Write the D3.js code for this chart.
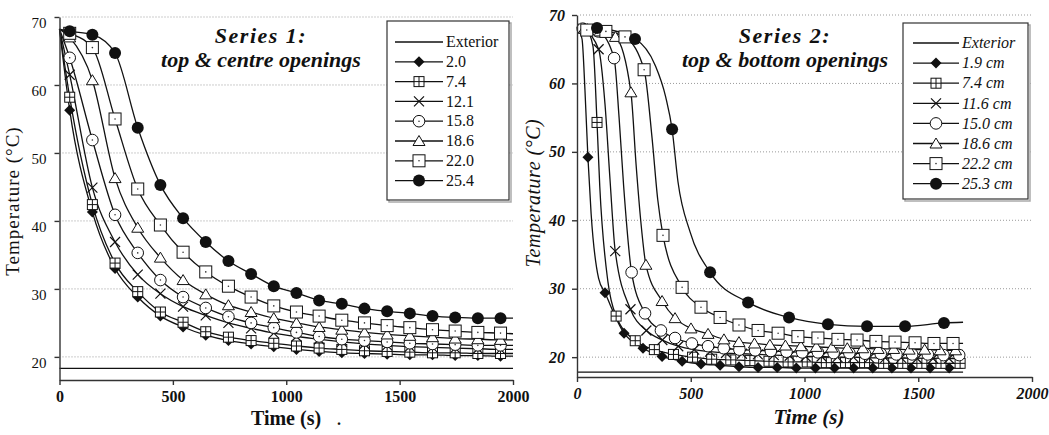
<!DOCTYPE html>
<html lang="en">
<head>
<meta charset="utf-8">
<title>Series 1 / Series 2 - temperature decay</title>
<script src="https://cdn.jsdelivr.net/npm/d3@7"></script>
<style>
body { margin: 0; background: #fff; }
svg text { fill: #111; }
.grid line { stroke: #9a9a9a; stroke-width: 1; stroke-dasharray: 1,2; }
.axis path, .axis line { stroke: #333; stroke-width: 1.4; }
.series { fill: none; stroke: #111; stroke-width: 1.3; }
.legend-box { fill: #fff; stroke: #333; stroke-width: 1.2; }
.legend-shadow { fill: none; stroke: #aaa; stroke-width: 1.5; }
</style>
</head>
<body>
<svg id="chart" width="1049" height="435"></svg>
<script>

// ---- data ----
var xTicks = [0, 500, 1000, 1500, 2000];
var yTicks = [20, 30, 40, 50, 60, 70];

// series 1 : top & centre openings (heights in cm)
var s1Labels = ["Exterior", "2.0", "7.4", "12.1", "15.8", "18.6", "22.0", "25.4"];
var s1Time = [45, 145, 245, 345, 445, 545, 645, 745, 845, 945, 1045, 1145, 1245, 1345, 1445, 1545, 1645, 1745, 1845, 1945];
var s1_20  = [56.3, 41.3, 33.0, 28.8, 26.0, 24.4, 23.2, 22.4, 21.9, 21.5, 21.1, 20.8, 20.6, 20.5, 20.4, 20.3, 20.3, 20.2, 20.2, 20.1];
var s1_74  = [58.2, 42.4, 33.8, 29.6, 26.6, 25.1, 23.7, 22.9, 22.4, 22.0, 21.6, 21.3, 21.1, 20.9, 20.8, 20.7, 20.6, 20.6, 20.5, 20.5];
var s1_121 = [61.5, 44.9, 36.9, 32.1, 29.3, 27.4, 26.1, 25.0, 24.2, 23.5, 23.0, 22.6, 22.2, 21.9, 21.7, 21.5, 21.4, 21.3, 21.2, 21.1];
var s1_158 = [64.0, 51.9, 40.9, 35.3, 31.3, 28.8, 27.2, 25.9, 25.0, 24.3, 23.6, 23.0, 22.6, 22.4, 22.2, 22.0, 21.9, 21.8, 21.7, 21.7];
var s1_186 = [67.0, 60.7, 46.3, 39.0, 34.6, 31.3, 29.2, 27.6, 26.6, 25.7, 25.0, 24.4, 24.0, 23.6, 23.3, 23.1, 22.9, 22.7, 22.6, 22.5];
var s1_220 = [67.6, 65.5, 55.0, 44.7, 39.4, 35.4, 32.5, 30.4, 28.8, 27.5, 26.6, 26.0, 25.4, 25.0, 24.6, 24.3, 24.0, 23.8, 23.6, 23.5];
var s1_254 = [67.9, 67.4, 64.7, 53.7, 45.3, 40.4, 36.9, 34.1, 32.2, 30.4, 29.4, 28.3, 27.8, 27.1, 26.7, 26.4, 26.0, 25.8, 25.7, 25.7];
// line ends (no marker)
var s1Via_20  = [[0, 68.2], [2000, 20.1]];
var s1Via_74  = [[0, 68.2], [2000, 20.5]];
var s1Via_121 = [[0, 68.2], [2000, 21.1]];
var s1Via_158 = [[0, 68.2], [2000, 21.7]];
var s1Via_186 = [[0, 68.2], [2000, 22.5]];
var s1Via_220 = [[0, 68.2], [2000, 23.4]];
var s1Via_254 = [[0, 68.2], [2000, 25.7]];
var s1Exterior = [[0, 18.3], [2000, 18.3]];

// series 2 : top & bottom openings
var s2Labels = ["Exterior", "1.9 cm", "7.4 cm", "11.6 cm", "15.0 cm", "18.6 cm", "22.2 cm", "25.3 cm"];
var s2T_19  = [48, 123, 207, 290, 374, 462, 545, 629, 712, 796, 880, 964, 1048, 1132, 1216, 1300, 1384, 1468, 1552, 1636];
var s2V_19  = [49.2, 29.4, 23.5, 21.3, 20.1, 19.4, 19.0, 18.8, 18.6, 18.5, 18.5, 18.4, 18.4, 18.4, 18.4, 18.4, 18.4, 18.4, 18.4, 18.4];
var s2Via_19 = [[0, 68.2], [22, 66.5], [35, 59], [62, 41], [95, 31.5], [1697, 18.4]];

var s2T_74  = [88, 172, 256, 340, 424, 508, 592, 676, 760, 844, 928, 1012, 1096, 1180, 1264, 1348, 1432, 1516, 1600, 1684];
var s2V_74  = [54.3, 26.0, 22.4, 21.1, 20.4, 20.0, 19.7, 19.6, 19.5, 19.4, 19.3, 19.3, 19.2, 19.2, 19.2, 19.1, 19.1, 19.1, 19.1, 19.1];
var s2Via_74 = [[0, 68.2], [40, 67.9], [70, 65.5], [100, 45], [136, 31], [1697, 19.1]];

var s2T_116 = [25, 95, 168, 235, 305, 375, 445, 515, 585, 655, 725, 795, 865, 935, 1005, 1075, 1145, 1215, 1285, 1355, 1425, 1495, 1565, 1635];
var s2V_116 = [68.0, 65.0, 35.5, 27.0, 23.9, 22.5, 21.6, 21.1, 20.8, 20.6, 20.5, 20.4, 20.3, 20.2, 20.1, 20.1, 20.0, 20.0, 19.9, 19.9, 19.9, 19.8, 19.8, 19.8];
var s2Via_116 = [[0, 68.2], [123, 57], [145, 46], [1697, 19.8]];

var s2T_150 = [25, 94, 163, 240, 299, 369, 431, 505, 576, 645, 714, 783, 852, 921, 990, 1059, 1128, 1197, 1266, 1335, 1404, 1473, 1542, 1611, 1680];
var s2V_150 = [68.0, 67.6, 63.7, 32.4, 26.4, 23.9, 22.8, 22.0, 21.6, 21.3, 21.1, 21.0, 20.9, 20.8, 20.7, 20.7, 20.6, 20.6, 20.5, 20.5, 20.4, 20.4, 20.4, 20.3, 20.3];
var s2Via_150 = [[0, 68.2], [185, 55], [205, 45], [1697, 20.3]];

var s2T_186 = [33, 101, 169, 237, 303, 374, 431, 501, 576, 646, 712, 780, 848, 916, 984, 1052, 1120, 1188, 1256, 1324, 1392, 1460, 1528, 1596, 1664];
var s2V_186 = [68.0, 67.6, 66.8, 58.7, 33.5, 28.2, 25.7, 24.2, 23.4, 22.6, 22.2, 22.0, 21.8, 21.7, 21.6, 21.5, 21.4, 21.3, 21.3, 21.2, 21.2, 21.1, 21.1, 21.0, 21.0];
var s2Via_186 = [[0, 68.2], [260, 48], [280, 40], [1697, 21.0]];

var s2T_222 = [43, 127, 211, 295, 378, 462, 545, 629, 712, 796, 884, 971, 1059, 1147, 1231, 1314, 1398, 1486, 1569, 1653];
var s2V_222 = [67.8, 67.6, 66.8, 62.0, 37.8, 30.2, 27.3, 25.8, 24.7, 23.9, 23.5, 23.0, 22.8, 22.6, 22.5, 22.3, 22.2, 22.1, 22.0, 22.0];
var s2Via_222 = [[0, 68.2], [330, 52], [355, 43], [1697, 22.0]];

var s2T_253 = [88, 255, 418, 585, 752, 932, 1103, 1275, 1442, 1613];
var s2V_253 = [68.1, 66.5, 53.3, 32.4, 28.0, 25.8, 24.8, 24.5, 24.5, 25.0];
var s2Via_253 = [[0, 68.2], [343, 62.7], [390, 58], [444, 45.6], [497, 38.3], [1697, 25.1]];

var s2Exterior = [[0, 17.8], [1697, 17.8]];

// ---- drawing ----
var svg = d3.select("#chart");
var serif = "'Liberation Serif', 'Times New Roman', serif";

function marker(g, type, x, y) {
    if (type == "diamond") {
        g.append("path").attr("d", "M" + x + "," + (y - 5.5) + "L" + (x + 5.5) + "," + y + "L" + x + "," + (y + 5.5) + "L" + (x - 5.5) + "," + y + "Z")
            .attr("fill", "#111");
    } else if (type == "crossSquare") {
        g.append("rect").attr("x", x - 5).attr("y", y - 5).attr("width", 10).attr("height", 10)
            .attr("fill", "#fff").attr("stroke", "#111").attr("stroke-width", 1);
        g.append("path").attr("d", "M" + (x - 5) + "," + y + "H" + (x + 5) + "M" + x + "," + (y - 5) + "V" + (y + 5))
            .attr("stroke", "#111").attr("stroke-width", 1);
    } else if (type == "x") {
        g.append("path").attr("d", "M" + (x - 5) + "," + (y - 5) + "L" + (x + 5) + "," + (y + 5) + "M" + (x - 5) + "," + (y + 5) + "L" + (x + 5) + "," + (y - 5))
            .attr("stroke", "#111").attr("stroke-width", 1.2);
    } else if (type == "circle" || type == "circleDot") {
        g.append("circle").attr("cx", x).attr("cy", y).attr("r", 5.8)
            .attr("fill", "#fff").attr("stroke", "#111").attr("stroke-width", 1);
        if (type == "circleDot") g.append("circle").attr("cx", x).attr("cy", y).attr("r", 0.8).attr("fill", "#333");
    } else if (type == "triangle") {
        g.append("path").attr("d", "M" + x + "," + (y - 5.5) + "L" + (x + 6) + "," + (y + 4.5) + "L" + (x - 6) + "," + (y + 4.5) + "Z")
            .attr("fill", "#fff").attr("stroke", "#111").attr("stroke-width", 1);
    } else if (type == "squareDot") {
        g.append("rect").attr("x", x - 6).attr("y", y - 6).attr("width", 12).attr("height", 12)
            .attr("fill", "#fff").attr("stroke", "#111").attr("stroke-width", 1);
        g.append("circle").attr("cx", x).attr("cy", y).attr("r", 0.8).attr("fill", "#333");
    } else if (type == "disc") {
        g.append("circle").attr("cx", x).attr("cy", y).attr("r", 6).attr("fill", "#111");
    }
}

function panel(cfg) {
    var x = d3.scaleLinear().domain([0, 2000]).range(cfg.xRange);
    var y = d3.scaleLinear().domain(cfg.yDomain).range(cfg.yRange);
    var g = svg.append("g");
    var style = cfg.italic ? "italic" : "normal";

    // dotted gridlines
    g.append("g").attr("class", "grid").selectAll("line")
        .data(yTicks).enter().append("line")
            .attr("x1", x(0) + 3).attr("x2", x(2000))
            .attr("y1", function(d) { return y(d); })
            .attr("y2", function(d) { return y(d); });

    var line = d3.line()
        .x(function(d) { return x(d[0]); })
        .y(function(d) { return y(d[1]); })
        .curve(d3.curveMonotoneX);

    g.append("path").attr("class", "series").attr("d", line(cfg.exterior));

    cfg.series.forEach(function(s) {
        var pts = s.t.map(function(t, i) { return [t, s.v[i]]; })
            .concat(s.via)
            .sort(function(a, b) { return a[0] - b[0]; });
        g.append("path").attr("class", "series").attr("d", line(pts));
    });
    cfg.series.forEach(function(s) {
        var m = g.append("g");
        s.t.forEach(function(t, i) { marker(m, s.sym, x(t), y(s.v[i])); });
    });

    // axes
    var ax = g.append("g").attr("class", "axis")
        .attr("transform", "translate(0," + cfg.yRange[0] + ")")
        .call(d3.axisBottom(x).tickValues(xTicks).tickFormat(d3.format("d"))
            .tickSize(5).tickSizeOuter(0).tickPadding(6));
    ax.selectAll("text")
        .attr("font-family", serif).attr("font-size", 16).attr("font-weight", "bold")
        .attr("font-style", style).attr("fill", "#111");

    var ay = g.append("g").attr("class", "axis")
        .attr("transform", "translate(" + cfg.xRange[0] + ",0)")
        .call(d3.axisLeft(y).tickValues(yTicks).tickSize(5).tickSizeOuter(0).tickPadding(cfg.yPad));
    ay.selectAll("text")
        .attr("font-family", serif).attr("font-size", cfg.yFont).attr("font-style", style)
        .attr("font-weight", cfg.italic ? "bold" : "normal")
        .attr("dy", cfg.yDy).attr("fill", "#111");

    // axis titles
    g.append("text")
        .attr("x", cfg.xTitle[0]).attr("y", cfg.xTitle[1])
        .attr("text-anchor", "middle")
        .attr("font-family", serif).attr("font-size", cfg.xTitleSize).attr("font-weight", "bold")
        .attr("font-style", style)
        .text("Time (s)");
    g.append("text")
        .attr("transform", "translate(" + cfg.yTitle[0] + "," + cfg.yTitle[1] + ") rotate(-90)")
        .attr("text-anchor", "middle")
        .attr("font-family", serif).attr("font-size", cfg.yTitleSize).attr("font-style", style)
        .attr("letter-spacing", cfg.italic ? 0.5 : 1)
        .text("Temperature (\u00B0C)");

    // title
    var tt = g.append("text")
        .attr("text-anchor", "middle")
        .attr("font-family", serif).attr("font-size", 22).attr("font-style", "italic").attr("font-weight", "bold");
    tt.append("tspan").attr("x", cfg.title[0]).attr("y", cfg.title[1])
        .attr("letter-spacing", 1.5).text(cfg.titleLines[0]);
    tt.append("tspan").attr("x", cfg.title[0]).attr("y", cfg.title[1] + 24).text(cfg.titleLines[1]);

    // legend
    var lb = cfg.legend;
    g.append("rect").attr("class", "legend-shadow")
        .attr("x", lb.x + 2).attr("y", lb.y + 2).attr("width", lb.w).attr("height", lb.h);
    g.append("rect").attr("class", "legend-box")
        .attr("x", lb.x).attr("y", lb.y).attr("width", lb.w).attr("height", lb.h);
    var syms = [null].concat(cfg.series.map(function(s) { return s.sym; }));
    cfg.labels.forEach(function(label, i) {
        var ry = lb.row0 + i * lb.step;
        g.append("line").attr("x1", lb.x1).attr("x2", lb.x2).attr("y1", ry).attr("y2", ry)
            .attr("stroke", "#111").attr("stroke-width", 1.3);
        if (syms[i]) marker(g, syms[i], (lb.x1 + lb.x2) / 2, ry);
        g.append("text").attr("x", lb.x2 + 3).attr("y", ry).attr("dy", "0.33em")
            .attr("font-family", serif).attr("font-size", 16).attr("font-style", style)
            .text(label);
    });
}

panel({
    xRange: [59.5, 513], yRange: [380, 17], yDomain: [16.6, 70],
    italic: false, yPad: 8, yFont: 15, yDy: "0.68em",
    xTitle: [286, 425], xTitleSize: 20, yTitle: [19, 201], yTitleSize: 19,
    title: [261, 43], titleLines: ["Series 1:", "top & centre openings"],
    legend: {x: 387, y: 21, w: 122, h: 179, row0: 42, step: 19.8, x1: 395, x2: 443},
    labels: s1Labels,
    exterior: s1Exterior,
    series: [
        {t: s1Time, v: s1_20,  via: s1Via_20,  sym: "diamond"},
        {t: s1Time, v: s1_74,  via: s1Via_74,  sym: "crossSquare"},
        {t: s1Time, v: s1_121, via: s1Via_121, sym: "x"},
        {t: s1Time, v: s1_158, via: s1Via_158, sym: "circleDot"},
        {t: s1Time, v: s1_186, via: s1Via_186, sym: "triangle"},
        {t: s1Time, v: s1_220, via: s1Via_220, sym: "squareDot"},
        {t: s1Time, v: s1_254, via: s1Via_254, sym: "disc"}
    ]
});

panel({
    xRange: [577, 1032], yRange: [377, 15], yDomain: [17.1, 70],
    italic: true, yPad: 7, yFont: 16, yDy: "0.32em",
    xTitle: [809, 424], xTitleSize: 21, yTitle: [540, 193], yTitleSize: 20,
    title: [785, 43], titleLines: ["Series 2:", "top & bottom openings"],
    legend: {x: 903, y: 23, w: 125, h: 176, row0: 43, step: 20.1, x1: 913, x2: 959},
    labels: s2Labels,
    exterior: s2Exterior,
    series: [
        {t: s2T_19,  v: s2V_19,  via: s2Via_19,  sym: "diamond"},
        {t: s2T_74,  v: s2V_74,  via: s2Via_74,  sym: "crossSquare"},
        {t: s2T_116, v: s2V_116, via: s2Via_116, sym: "x"},
        {t: s2T_150, v: s2V_150, via: s2Via_150, sym: "circle"},
        {t: s2T_186, v: s2V_186, via: s2Via_186, sym: "triangle"},
        {t: s2T_222, v: s2V_222, via: s2Via_222, sym: "squareDot"},
        {t: s2T_253, v: s2V_253, via: s2Via_253, sym: "disc"}
    ]
});

// stray mark after the left axis title in the original scan
svg.append("text").attr("x", 337).attr("y", 425)
    .attr("font-family", serif).attr("font-size", 16).attr("font-weight", "bold").text(".");

</script>
</body>
</html>
